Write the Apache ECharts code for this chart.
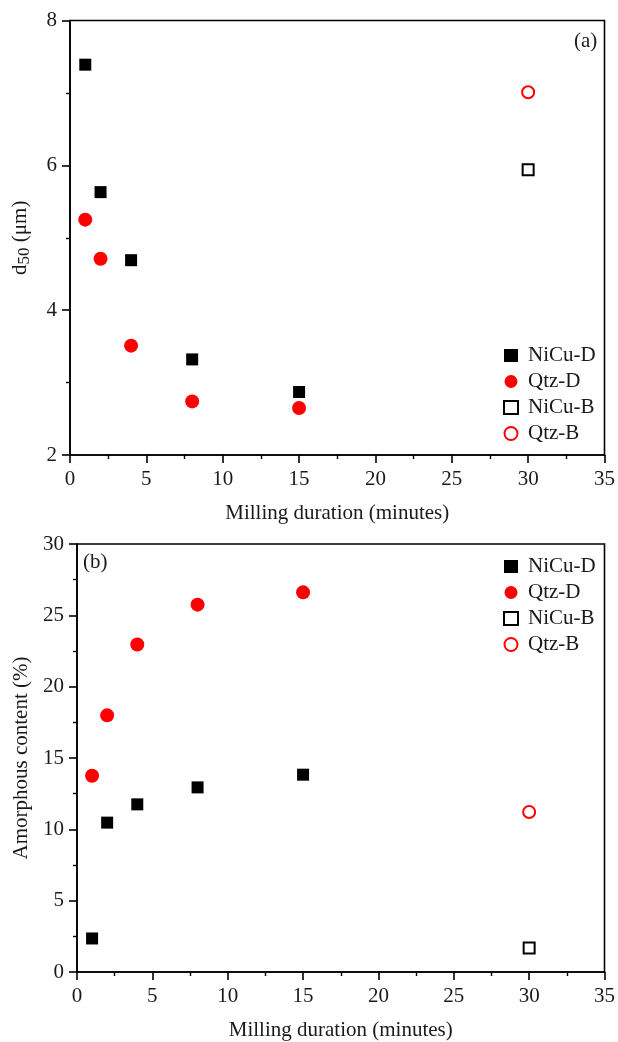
<!DOCTYPE html>
<html>
<head>
<meta charset="utf-8">
<script src="https://cdn.jsdelivr.net/npm/echarts@6/dist/echarts.min.js"></script>
<style>
html,body{margin:0;padding:0;background:#fff;}
#chart{width:618px;height:1042px;}
</style>
</head>
<body>
<div id="chart"></div>
<script>
// ---- Data ----
const seriesNames = ['NiCu-D', 'Qtz-D', 'NiCu-B', 'Qtz-B'];
const durationD = [1, 2, 4, 8, 15];
const durationB = [30];
const d50NiCuD = [7.39, 5.63, 4.69, 3.32, 2.87];
const d50QtzD = [5.25, 4.71, 3.51, 2.74, 2.65];
const d50NiCuB = [5.94];
const d50QtzB = [7.01];
const amorphNiCuD = [2.35, 10.47, 11.75, 12.94, 13.83];
const amorphQtzD = [13.76, 17.99, 22.96, 25.75, 26.61];
const amorphNiCuB = [1.68];
const amorphQtzB = [11.21];
const xTitle = 'Milling duration (minutes)';
const yTitleTop = '{t|d}{s|50}{t| (μm)}';
const yTitleBottom = 'Amorphous content (%)';
const panelLabels = ['(a)', '(b)'];

function pairs(xs, ys) { return xs.map((x, i) => [x, ys[i]]); }

const FONT = '"Liberation Serif","Times New Roman",serif';
const TXT = '#1a1a1a';
const FS = 21;

function xAxisCfg(gridIndex) {
  return {
    gridIndex, type: 'value', min: 0, max: 35, interval: 5,
    name: xTitle, nameLocation: 'middle', nameGap: 48,
    nameTextStyle: { fontFamily: FONT, fontSize: FS, color: TXT },
    axisLine: { show: true, onZero: false, lineStyle: { color: '#000', width: 1.6 } },
    axisTick: { show: true, inside: false, length: 8, lineStyle: { color: '#000', width: 1.6 } },
    minorTick: { show: true, splitNumber: 2, length: 4, lineStyle: { color: '#000', width: 1.4 } },
    axisLabel: { fontFamily: FONT, fontSize: FS, color: TXT, margin: 14 },
    splitLine: { show: false }
  };
}
function yAxisCfg(gridIndex, min, max, interval, name, rich) {
  const cfg = {
    gridIndex, type: 'value', min, max, interval,
    name, nameLocation: 'middle', nameGap: gridIndex === 0 ? 37 : 45,
    nameTextStyle: { fontFamily: FONT, fontSize: FS, color: TXT },
    axisLine: { show: true, onZero: false, lineStyle: { color: '#000', width: 1.6 } },
    axisTick: { show: true, inside: false, length: 8, lineStyle: { color: '#000', width: 1.6 } },
    minorTick: { show: true, splitNumber: 2, length: 4, lineStyle: { color: '#000', width: 1.4 } },
    axisLabel: { fontFamily: FONT, fontSize: FS, color: TXT, margin: 13 },
    splitLine: { show: false }
  };
  if (rich) cfg.nameTextStyle.rich = rich;
  return cfg;
}

const styles = {
  'NiCu-D': { symbol: 'rect', symbolSize: 12, itemStyle: { color: '#000', opacity: 1 } },
  'Qtz-D': { symbol: 'circle', symbolSize: 14, itemStyle: { color: '#ff0000', opacity: 1 } },
  'NiCu-B': { symbol: 'rect', symbolSize: 11, itemStyle: { color: '#fff', borderColor: '#000', borderWidth: 2, opacity: 1 } },
  'Qtz-B': { symbol: 'circle', symbolSize: 12, itemStyle: { color: '#fff', borderColor: '#ff0000', borderWidth: 2, opacity: 1 } }
};

function mkSeries(name, data, idx) {
  return Object.assign({
    type: 'scatter', name, data, xAxisIndex: idx, yAxisIndex: idx, z: 3,
    emphasis: { disabled: true }
  }, JSON.parse(JSON.stringify(styles[name])));
}

function legendCfg(top) {
  return {
    orient: 'vertical', left: 498, top,
    itemWidth: 14, itemHeight: 13, itemGap: 5,
    data: seriesNames,
    textStyle: { fontFamily: FONT, fontSize: FS, color: TXT, lineHeight: 21, padding: [0, 0, 0, 5] },
    selectedMode: false
  };
}

const chart = echarts.init(document.getElementById('chart'), null, { renderer: 'canvas' });
chart.setOption({
  animation: false,
  backgroundColor: '#fff',
  grid: [
    { left: 70, top: 20.5, right: 12, height: 434.5, show: true, borderColor: '#000', borderWidth: 1.6, backgroundColor: 'transparent' },
    { left: 77, top: 544, right: 12, height: 429.3, show: true, borderColor: '#000', borderWidth: 1.6, backgroundColor: 'transparent' }
  ],
  xAxis: [xAxisCfg(0), xAxisCfg(1)],
  yAxis: [
    yAxisCfg(0, 2, 8, 2, yTitleTop, {
      t: { fontFamily: FONT, fontSize: FS, color: TXT },
      s: { fontFamily: FONT, fontSize: 17, color: TXT, verticalAlign: 'bottom', padding: [8, 0, 0, 0] }
    }),
    yAxisCfg(1, 0, 30, 5, yTitleBottom)
  ],
  legend: [legendCfg(340), legendCfg(551)],
  series: [
    mkSeries('NiCu-D', pairs(durationD, d50NiCuD), 0),
    mkSeries('Qtz-D', pairs(durationD, d50QtzD), 0),
    mkSeries('NiCu-B', pairs(durationB, d50NiCuB), 0),
    mkSeries('Qtz-B', pairs(durationB, d50QtzB), 0),
    mkSeries('NiCu-D', pairs(durationD, amorphNiCuD), 1),
    mkSeries('Qtz-D', pairs(durationD, amorphQtzD), 1),
    mkSeries('NiCu-B', pairs(durationB, amorphNiCuB), 1),
    mkSeries('Qtz-B', pairs(durationB, amorphQtzB), 1)
  ],
  graphic: [
    { type: 'text', left: 574, top: 31, style: { text: panelLabels[0], font: FS + 'px ' + FONT, fill: TXT } },
    { type: 'text', left: 83, top: 552, style: { text: panelLabels[1], font: FS + 'px ' + FONT, fill: TXT } }
  ]
});
</script>
</body>
</html>
